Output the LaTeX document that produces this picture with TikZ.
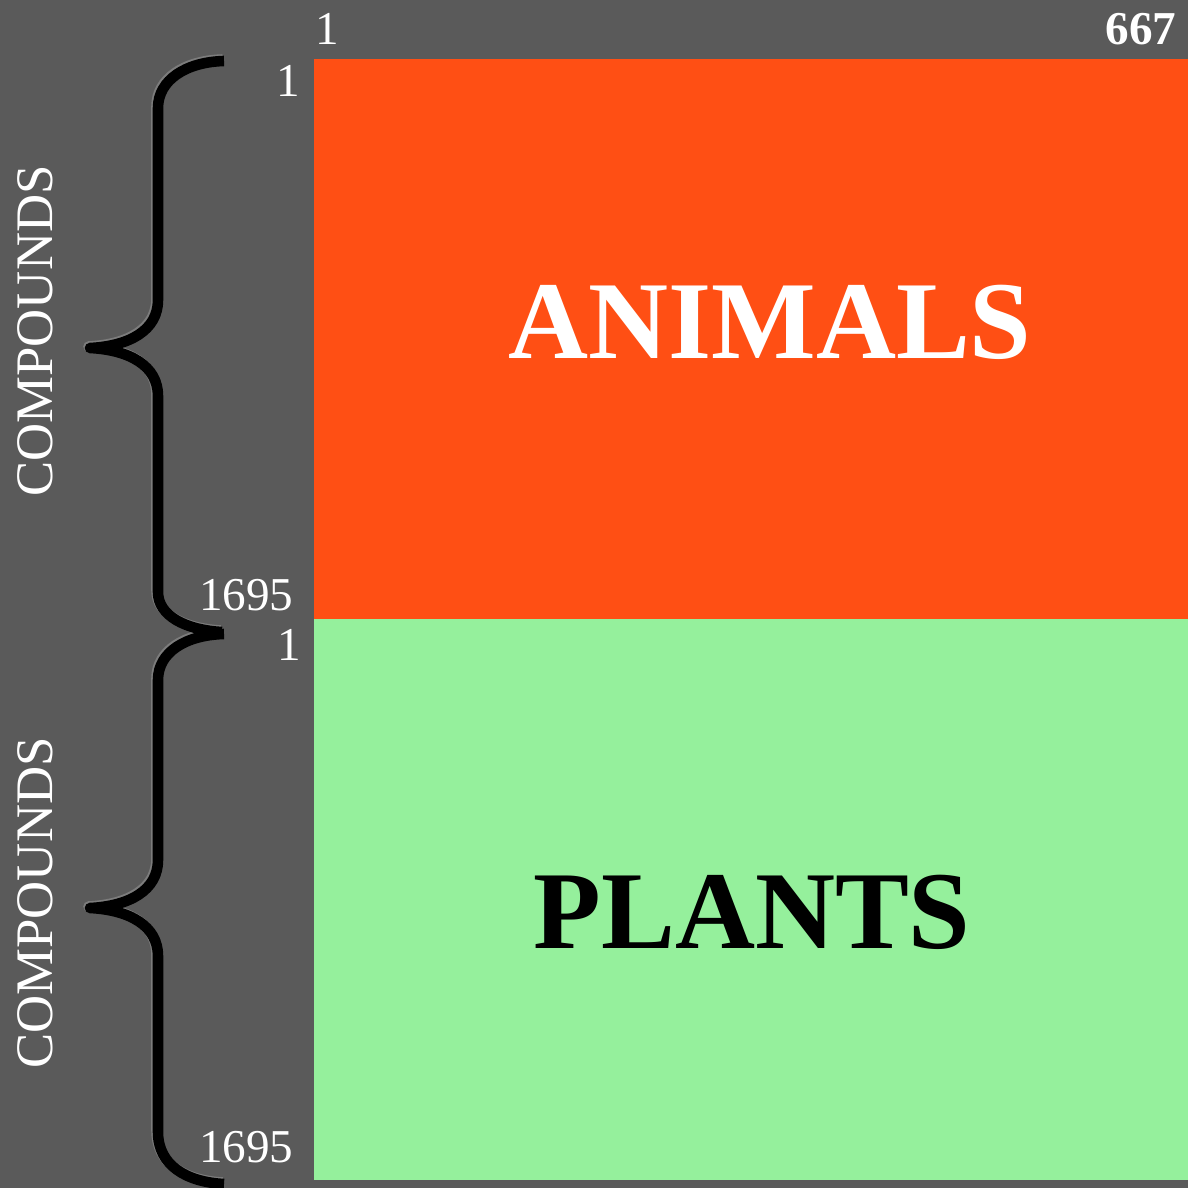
\documentclass[tikz,border=0pt]{standalone}
\usepackage{fontspec}
\setmainfont{Liberation Serif}
\definecolor{bggray}{HTML}{5A5A5A}
\definecolor{animalorange}{HTML}{FF4F14}
\definecolor{plantgreen}{HTML}{95F09C}
\definecolor{braceshade}{HTML}{7C7C7C}
\tikzset{
  numlabel/.style={text=white, inner sep=0pt, font=\fontsize{13.4}{15}\selectfont},
  boldnum/.style={numlabel, font=\fontsize{13.4}{15}\selectfont\bfseries},
  sidelabel/.style={text=white, inner sep=0pt, rotate=90, anchor=base, font=\fontsize{15}{17}\selectfont},
  bigtitle/.style={inner sep=0pt, anchor=base, font=\fontsize{31.5}{34}\selectfont\bfseries},
  bracestroke/.style={line width=3pt, line join=round, black},
  braceshadow/.style={line width=3pt, line join=round, braceshade}
}
\begin{document}
\begin{tikzpicture}[x=0.01cm, y=-0.01cm]
\useasboundingbox (0,0) rectangle (1188,1188);
\fill[bggray] (0,0) rectangle (1188,1188);
% blocks
\fill[animalorange] (314,59) rectangle (1188,619);
\fill[plantgreen] (314,619) rectangle (1188,1180);
\node[bigtitle, text=white] (animals) at (770,358) {ANIMALS};
\node[bigtitle, text=black] (plants) at (752,948) {PLANTS};
% column labels
\node[numlabel, anchor=base] (colone) at (327,45) {1};
\node[boldnum, anchor=base east] (collast) at (1177,45) {667};
% row labels
\node[numlabel, anchor=base east] (rowonea) at (301,97) {1};
\node[numlabel, anchor=base east] (rowenda) at (294,610) {1695};
\node[numlabel, anchor=base east] (rowoneb) at (302,660) {1};
\node[numlabel, anchor=base east] (rowendb) at (294,1162) {1695};
% side labels
\node[sidelabel] (compa) at (52,331) {COMPOUNDS};
\node[sidelabel] (compb) at (52,903) {COMPOUNDS};
% braces (shadow then stroke)
\foreach \dx/\dy/\st in {-1.5/-1.5/braceshadow, 0/0/bracestroke} {
  \begin{scope}[shift={(\dx,\dy)}]
  \draw[\st] (224,61) .. controls (186,62) and (158,80) .. (158,108)
     -- (158,300) .. controls (158,330) and (130,346) .. (90,348)
     .. controls (130,350) and (158,366) .. (158,396)
     -- (158,592) .. controls (158,616) and (186,630) .. (222,632);
  \draw[\st] (224,634) .. controls (186,635) and (158,652) .. (158,680)
     -- (158,860) .. controls (158,890) and (130,906) .. (90,908)
     .. controls (130,910) and (158,926) .. (158,956)
     -- (158,1132) .. controls (158,1165) and (186,1182) .. (224,1184);
  \end{scope}
}
\end{tikzpicture}
\end{document}
